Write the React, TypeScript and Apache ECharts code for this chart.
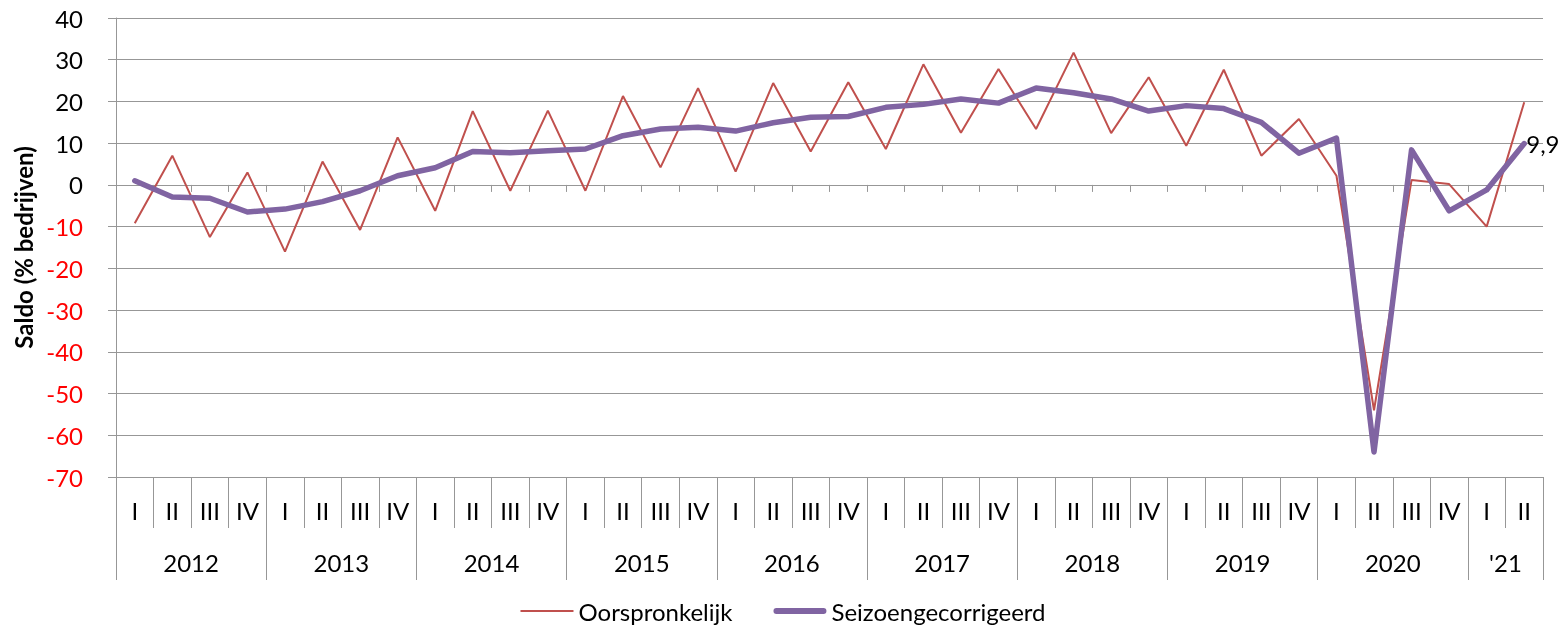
import React, { useEffect, useRef } from "react";
import * as echarts from "echarts";

const quarterNames = ["I", "II", "III", "IV"];
const years = ["2012", "2013", "2014", "2015", "2016", "2017", "2018", "2019", "2020", "'21"];
const quartersPerYear = [4, 4, 4, 4, 4, 4, 4, 4, 4, 2];

const oorspronkelijk = [
  -9.2, 7.0, -12.5, 3.0,
  -16.0, 5.6, -10.8, 11.4,
  -6.2, 17.7, -1.4, 17.8,
  -1.4, 21.3, 4.2, 23.2,
  3.2, 24.4, 8.0, 24.6,
  8.6, 28.9, 12.5, 27.8,
  13.4, 31.7, 12.4, 25.8,
  9.4, 27.6, 7.0, 15.8,
  2.2, -54.0, 1.2, 0.2,
  -10.0, 19.8,
];

const seizoengecorrigeerd = [
  1.0, -2.9, -3.2, -6.5,
  -5.8, -4.0, -1.4, 2.2,
  4.1, 8.0, 7.7, 8.2,
  8.6, 11.8, 13.4, 13.8,
  12.9, 14.9, 16.2, 16.4,
  18.6, 19.3, 20.6, 19.6,
  23.2, 22.1, 20.6, 17.7,
  19.0, 18.3, 15.0, 7.6,
  11.2, -64.0, 8.4, -6.2,
  -1.2, 9.9,
];

const yMin = -70;
const yMax = 40;
const yStep = 10;

const FONT = "Lato";
const FS = 24;

export default function App() {
  const ref = useRef<HTMLDivElement>(null);

  useEffect(() => {
    document.body.style.margin = "0";
    if (!ref.current) return;
    const chart = echarts.init(ref.current, undefined, { renderer: "svg" });

    const quarterLabels: string[] = [];
    quartersPerYear.forEach((n) => {
      for (let q = 0; q < n; q++) quarterLabels.push(quarterNames[q]);
    });
    const nQ = quarterLabels.length;

    // half-quarter resolution axis for year labels and year separators
    const yearAxisData: string[] = new Array(2 * nQ + 1).fill("");
    const yearTickIdx = new Set<number>();
    let s = 0;
    quartersPerYear.forEach((n, i) => {
      yearAxisData[2 * s + n] = years[i];
      yearTickIdx.add(2 * s);
      s += n;
    });
    yearTickIdx.add(2 * nQ);

    const gray = "#979797";

    chart.setOption({
      animation: false,
      grid: { left: 116, right: 23, top: 18, bottom: 152, containLabel: false },
      legend: {
        top: 598,
        left: "center",
        padding: 0,
        itemWidth: 53,
        itemHeight: 14,
        itemGap: 41,
        textStyle: { fontFamily: FONT, fontSize: FS, color: "#000", lineHeight: 26 },
        data: [
          { name: "Oorspronkelijk", icon: "path://M0,0H53V2H0Z" },
          {
            name: "Seizoengecorrigeerd",
            icon: "path://M3,0H50A3,3 0 0 1 50,6H3A3,3 0 0 1 3,0Z",
          },
        ],
      },
      xAxis: [
        {
          type: "category",
          position: "bottom",
          data: quarterLabels,
          boundaryGap: true,
          axisLine: { show: true, onZero: true, lineStyle: { color: gray, width: 1 } },
          axisTick: { show: true, interval: 0, length: 7, lineStyle: { color: gray } },
          axisLabel: { show: false },
          splitLine: { show: false },
        },
        {
          type: "category",
          position: "bottom",
          data: quarterLabels,
          boundaryGap: true,
          axisLine: { show: true, onZero: false, lineStyle: { color: gray, width: 1 } },
          axisTick: { show: true, interval: 0, length: 51, lineStyle: { color: gray } },
          axisLabel: {
            show: true,
            interval: 0,
            margin: 21,
            color: "#000",
            fontFamily: FONT,
            fontSize: FS,
          },
          splitLine: { show: false },
        },
        {
          type: "category",
          position: "bottom",
          data: yearAxisData,
          boundaryGap: false,
          axisLine: { show: false, onZero: false },
          axisTick: {
            show: true,
            length: 103,
            interval: (index: number) => yearTickIdx.has(index),
            lineStyle: { color: gray },
          },
          axisLabel: {
            show: true,
            interval: (index: number, value: string) => value !== "",
            margin: 73,
            color: "#000",
            fontFamily: FONT,
            fontSize: FS,
          },
          splitLine: { show: false },
        },
      ],
      yAxis: {
        type: "value",
        min: yMin,
        max: yMax,
        interval: yStep,
        name: "Saldo (% bedrijven)",
        nameLocation: "middle",
        nameGap: 81,
        nameTextStyle: { fontFamily: FONT, fontSize: FS, fontWeight: "bold", color: "#000" },
        axisLine: { show: true, lineStyle: { color: gray, width: 1 } },
        axisTick: { show: true, length: 8, lineStyle: { color: gray } },
        axisLabel: {
          margin: 33,
          fontFamily: FONT,
          fontSize: FS,
          color: (value: number) => (Number(value) < 0 ? "#FF0000" : "#000000"),
        },
        splitLine: { show: true, lineStyle: { color: gray, width: 1 } },
      },
      series: [
        {
          name: "Oorspronkelijk",
          type: "line",
          xAxisIndex: 0,
          data: oorspronkelijk,
          symbol: "none",
          lineStyle: { color: "#C0504D", width: 2 },
          itemStyle: { color: "#C0504D" },
          z: 2,
        },
        {
          name: "Seizoengecorrigeerd",
          type: "line",
          xAxisIndex: 0,
          data: seizoengecorrigeerd,
          symbol: "none",
          lineStyle: { color: "#8064A2", width: 5.5, cap: "round", join: "round" },
          itemStyle: { color: "#8064A2" },
          endLabel: {
            show: true,
            distance: 2,
            formatter: (p: any) => String(p.value).replace(".", ","),
            color: "#000",
            fontFamily: FONT,
            fontSize: FS,
          },
          z: 3,
        },
      ],
    });

    return () => chart.dispose();
  }, []);

  return (
    <div
      ref={ref}
      style={{ position: "fixed", left: 0, top: 0, width: 1566, height: 629 }}
    />
  );
}
